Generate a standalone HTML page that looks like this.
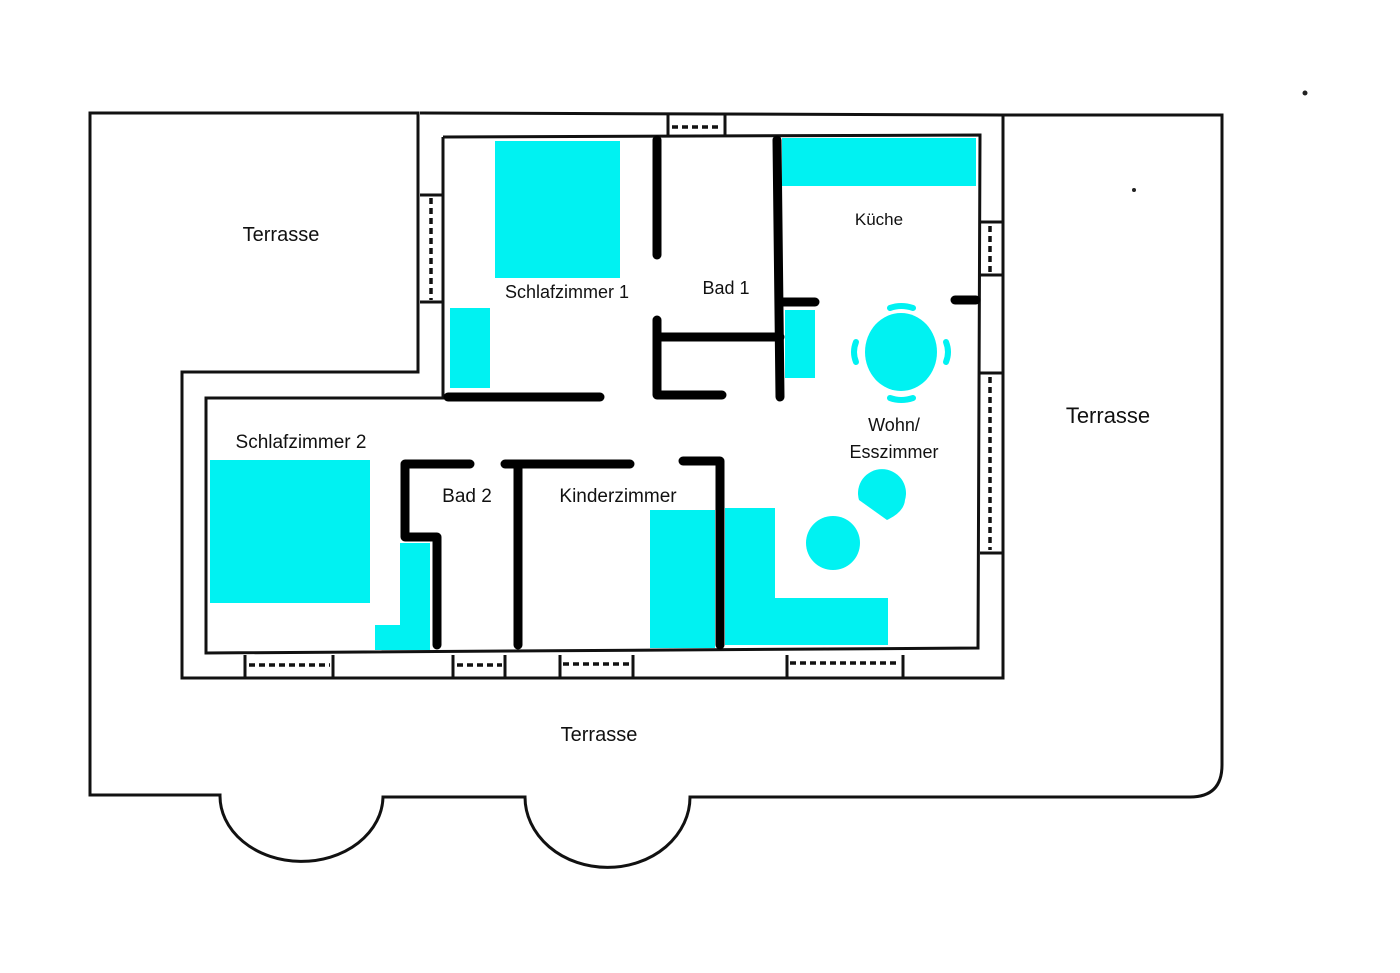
<!DOCTYPE html>
<html><head><meta charset="utf-8"><style>html,body{margin:0;padding:0;background:#fff}svg{display:block}text{font-family:"Liberation Sans",sans-serif;fill:#111;text-anchor:middle}</style></head>
<body>
<svg width="1400" height="973" viewBox="0 0 1400 973" xmlns="http://www.w3.org/2000/svg">
<g fill="#00f2f2" stroke="none">
<rect x="495" y="141" width="125" height="137"/>
<rect x="450" y="308" width="40" height="80"/>
<rect x="782" y="138" width="194" height="48"/>
<rect x="785" y="310" width="30" height="68"/>
<ellipse cx="901" cy="352" rx="36" ry="39"/>
<rect x="210" y="460" width="160" height="143"/>
<path d="M400 543 H430 V650 H375 V625 H400 Z"/>
<rect x="650" y="510" width="65" height="138"/>
<path d="M725 508 H775 V598 H888 V645 H725 Z"/>
<circle cx="833" cy="543" r="27"/>
<path d="M859 500 A24 24 0 1 1 905 500 Q904 512 887 520 Z"/>
</g>
<g fill="none" stroke="#00f2f2" stroke-width="6" stroke-linecap="round">
<path d="M890 308 Q901 304 913 308"/>
<path d="M890 398 Q901 402 913 398"/>
<path d="M856 342 Q852 352 856 362"/>
<path d="M946 342 Q950 352 946 362"/>
</g>
<g fill="none" stroke="#111" stroke-width="3">
<path d="M90 113 H418 V372 H182 V678 H1003 V115 H1222 V765 Q1222 797 1190 797 H690 A82 70 0 0 1 525 797 H383 A81 65 0 0 1 220 795 H90 Z"/>
<path d="M420 113 L1003 115"/>
<path d="M443 137 L980 135 L978 648 L206 653 V398 H443 V137"/>
<path d="M668 115 V135 M725 115 V135"/>
<path d="M420 195 H443 M420 302 H443"/>
<path d="M980 222 H1003 M980 275 H1003 M980 373 H1003 M980 553 H1003"/>
<path d="M245 655 V678 M333 655 V678 M453 655 V678 M505 655 V678 M560 655 V678 M633 655 V678 M787 655 V678 M903 655 V678"/>
</g>
<g fill="none" stroke="#111" stroke-width="3.5" stroke-dasharray="6 4">
<path d="M672 127 H722"/>
<path d="M431 198 V300"/>
<path d="M990 226 V272"/>
<path d="M990 377 V550"/>
<path d="M249 665 H330 M457 665 H502 M563 664 H630 M790 663 H900"/>
</g>
<g fill="none" stroke="#000" stroke-width="9" stroke-linecap="round" stroke-linejoin="round">
<path d="M657 140 V255"/>
<path d="M657 320 V395 H722"/>
<path d="M657 337 H780"/>
<path d="M777 140 L780 397"/>
<path d="M780 302 H815"/>
<path d="M955 300 H976"/>
<path d="M448 397 H600"/>
<path d="M470 464 H405 V537 H437 V645"/>
<path d="M630 464 H505 M518 464 V645"/>
<path d="M683 461 H720 V645"/>
</g>
<circle cx="1305" cy="93" r="2.5" fill="#222"/>
<circle cx="1134" cy="190" r="2" fill="#222"/>
<text x="281" y="241" font-size="20">Terrasse</text>
<text x="1108" y="423" font-size="22">Terrasse</text>
<text x="599" y="741" font-size="20">Terrasse</text>
<text x="567" y="298" font-size="18">Schlafzimmer 1</text>
<text x="726" y="294" font-size="18">Bad 1</text>
<text x="879" y="225" font-size="17">Küche</text>
<text x="894" y="431" font-size="18">Wohn/</text>
<text x="894" y="458" font-size="18">Esszimmer</text>
<text x="301" y="448" font-size="19">Schlafzimmer 2</text>
<text x="467" y="502" font-size="19">Bad 2</text>
<text x="618" y="502" font-size="19">Kinderzimmer</text>
</svg>
</body></html>
